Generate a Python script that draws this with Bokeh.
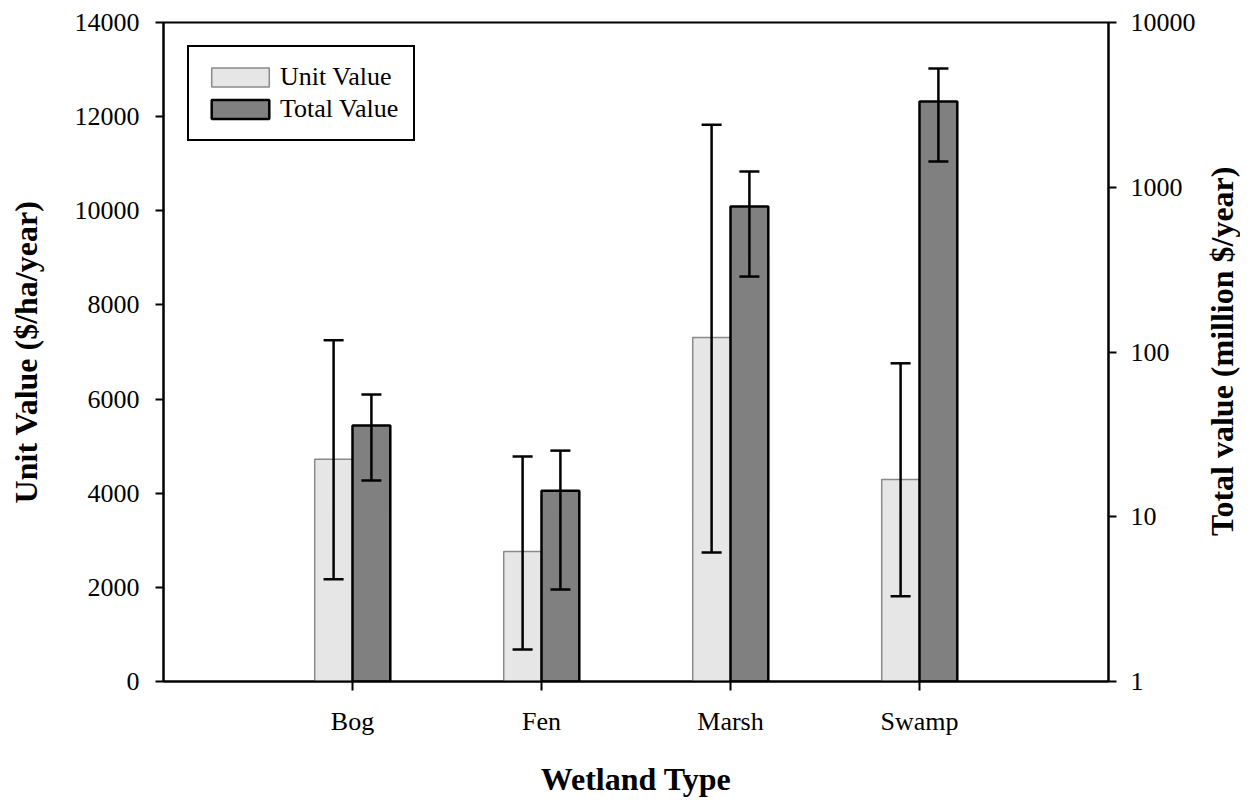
import math
from bokeh.plotting import figure
from bokeh.layouts import row
from bokeh.models import (Range1d, LogScale, LogAxis, LinearAxis, FixedTicker, Div,
                          Legend, LegendItem, BasicTickFormatter, ColumnDataSource)
from bokeh.embed import file_html
from bokeh.resources import INLINE

categories = ["Bog", "Fen", "Marsh", "Swamp"]
unit_value = [4720, 2760, 7310, 4290]
unit_upper = [7250, 4780, 11830, 6760]
unit_lower = [2170, 680, 2740, 1810]
total_value = [35.8, 14.4, 764, 3315]
total_upper = [55.2, 25.2, 1247, 5258]
total_lower = [16.6, 3.62, 287, 1433]
left_ticks = [0, 2000, 4000, 6000, 8000, 10000, 12000, 14000]
right_ticks = [1, 10, 100, 1000, 10000]

FONT = "Liberation Serif"
BAR_W = 0.2
CAP = 0.053

pos = [i + 1 for i in range(len(categories))]
ux = [x - BAR_W / 2 for x in pos]
tx = [x + BAR_W / 2 for x in pos]

xr = Range1d(0, 5)
yrng = Range1d(0, 14000)
p = figure(width=1200, height=802, x_range=xr, y_range=yrng,
           output_backend="svg", toolbar_location=None,
           x_axis_location=None, y_axis_location=None,
           min_border_left=163, min_border_right=92, min_border_top=22, min_border_bottom=121)
p.extra_y_ranges = {"log": Range1d(1, 10000)}
p.extra_y_scales = {"log": LogScale()}
p.xgrid.visible = False
p.ygrid.visible = False
p.outline_line_color = "black"
p.outline_line_width = 2
p.outline_line_alpha = 1
p.background_fill_color = "white"
p.border_fill_color = "white"

def style_axis(ax, font_size="26px"):
    ax.axis_line_width = 2
    ax.axis_line_color = "black"
    ax.major_tick_line_width = 2
    ax.major_tick_line_color = "black"
    ax.major_tick_in = 0
    ax.major_tick_out = 8
    ax.minor_tick_line_color = None
    ax.major_label_text_font = FONT
    ax.major_label_text_font_size = font_size
    ax.major_label_text_color = "black"
    ax.axis_label_text_font = FONT
    ax.axis_label_text_font_style = "bold"
    ax.axis_label_text_font_size = "32px"
    ax.axis_label_text_color = "black"

yl = LinearAxis(ticker=FixedTicker(ticks=left_ticks), axis_label="Unit Value ($/ha/year)",
                formatter=BasicTickFormatter(use_scientific=False))
style_axis(yl)
yl.major_label_standoff = 16
yl.axis_label_standoff = 28
p.add_layout(yl, "left")

yr = LogAxis(y_range_name="log", ticker=FixedTicker(ticks=right_ticks),
             formatter=BasicTickFormatter(use_scientific=False))
style_axis(yr)
yr.major_label_standoff = 14
p.add_layout(yr, "right")

xa = LinearAxis(ticker=FixedTicker(ticks=pos), axis_label="Wetland Type",
                major_label_overrides={x: c for x, c in zip(pos, categories)})
style_axis(xa)
xa.major_tick_out = 9
xa.major_label_standoff = 16
xa.axis_label_standoff = 22
p.add_layout(xa, "below")

usrc = ColumnDataSource(dict(x=ux, top=unit_value, up=unit_upper, lo=unit_lower,
                             cl=[x - CAP for x in ux], cr=[x + CAP for x in ux]))
tsrc = ColumnDataSource(dict(x=tx, top=total_value, up=total_upper, lo=total_lower,
                             bottom=[1] * len(tx),
                             cl=[x - CAP for x in tx], cr=[x + CAP for x in tx]))

r_unit = p.vbar(x="x", top="top", bottom=0, width=BAR_W, source=usrc,
                fill_color="#e6e6e6", line_color="#8a8a8a", line_width=1.5)
r_total = p.vbar(x="x", top="top", bottom="bottom", width=BAR_W, source=tsrc,
                 y_range_name="log", fill_color="#808080", line_color="black", line_width=2.5)

# unit error bars
p.segment(x0="x", y0="lo", x1="x", y1="up", source=usrc, line_color="black", line_width=2.5)
p.segment(x0="cl", y0="up", x1="cr", y1="up", source=usrc, line_color="black", line_width=2.5)
p.segment(x0="cl", y0="lo", x1="cr", y1="lo", source=usrc, line_color="black", line_width=2.5)
# total error bars
p.segment(x0="x", y0="lo", x1="x", y1="up", source=tsrc, y_range_name="log",
          line_color="black", line_width=2.5)
p.segment(x0="cl", y0="up", x1="cr", y1="up", source=tsrc, y_range_name="log",
          line_color="black", line_width=2.5)
p.segment(x0="cl", y0="lo", x1="cr", y1="lo", source=tsrc, y_range_name="log",
          line_color="black", line_width=2.5)

legend = Legend(items=[LegendItem(label="Unit Value", renderers=[r_unit]),
                       LegendItem(label="Total Value", renderers=[r_total])],
                location=(24, 540))
legend.border_line_color = "black"
legend.border_line_width = 2
legend.border_line_alpha = 1
legend.background_fill_color = "white"
legend.background_fill_alpha = 1
legend.label_text_font = FONT
legend.label_text_font_size = "26px"
legend.label_text_color = "black"
legend.glyph_width = 72
legend.glyph_height = 24
legend.label_height = 29
legend.spacing = 2
legend.padding = 15
legend.margin = 0
legend.label_standoff = 4
p.add_layout(legend, "center")

# right axis title, reading bottom-to-top like the left one
right_title = Div(
    text=("<div style=\"writing-mode: vertical-rl; transform: rotate(180deg); "
          "width: 44px; height: 703px; line-height: 44px; text-align: center; "
          "font-family: 'Liberation Serif'; font-weight: bold; font-size: 32px; "
          "color: black; white-space: nowrap;\">Total value (million $/year)</div>"),
    width=50, height=802, margin=0)

layout = row(p, right_title, spacing=0)
open("out.html", "w").write(file_html(layout, INLINE))
